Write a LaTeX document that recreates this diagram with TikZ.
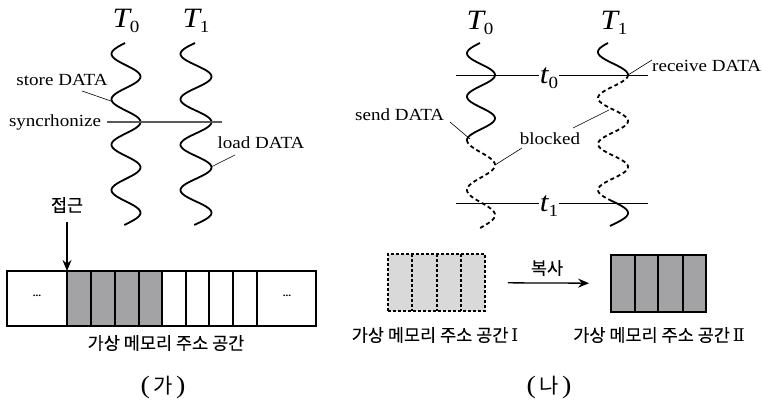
\documentclass[tikz,border=0pt]{standalone}
\usepackage{fontspec}
\setmainfont{Liberation Serif}[FakeStretch=1.12]
\newfontfamily\kr{Noto Sans CJK KR}[FakeBold=0.2]
\newfontfamily\krcap{Noto Sans CJK KR}
\newfontfamily\romfont{DejaVu Serif}
\usetikzlibrary{arrows.meta}
\definecolor{cellgrey}{HTML}{A3A3A5}
\definecolor{lightcell}{HTML}{D9D9D9}
\definecolor{syncgrey}{HTML}{5A5A5A}
\newcommand{\thr}[2]{{\fontsize{28}{28}\selectfont\itshape #1}\raisebox{-5pt}{\fontsize{17}{17}\selectfont #2}}
\begin{document}
\begin{tikzpicture}[x=1pt,y=-1pt,
  wave/.style={line width=1.8pt},
  dwave/.style={line width=1.8pt, dash pattern=on 4pt off 3pt},
  leader/.style={line width=0.6pt},
  lbl/.style={font=\fontsize{17}{17}\selectfont, inner sep=0pt},
  krl/.style={font=\kr\fontsize{17.5}{17.5}\selectfont, inner sep=0pt},
  tlbl/.style={inner sep=0pt},
  captionlbl/.style={font=\krcap\fontsize{21}{21}\selectfont, inner sep=0pt},
  bigarrow/.style={line width=1.3pt, -{Stealth[length=11pt,width=9pt]}},
  thread/.style={line width=0.8pt}]
\useasboundingbox (0,0) rectangle (762,407);

% ---------------- (가) ----------------
\node[tlbl] (lT0) at (126,21) {\thr{T}{0}};
\node[tlbl] (lT1) at (196,21) {\thr{T}{1}};
\draw[wave] plot[domain=43:225,samples=150,smooth] ({126+14.5*cos(7.93*(\x-122))},\x);
\draw[wave] plot[domain=43:225,samples=150,smooth] ({196+15.5*cos(7.93*(\x-122))},\x);

\node[lbl] (sync) at (55,122) {syncrhonize};
\coordinate (syncA) at (107,122);
\coordinate (syncB) at (222,122);
\draw[line width=1.6pt, syncgrey] (syncA) -- (syncB);

\node[lbl] (store) at (62,80) {store DATA};
\coordinate (storeA) at (82,91);
\coordinate (storeB) at (111,101);
\draw[leader] (storeA) -- (storeB);

\node[lbl] (load) at (261,143) {load DATA};
\coordinate (loadA) at (235,155);
\coordinate (loadB) at (211,167);
\draw[leader] (loadA) -- (loadB);

% memory bar
\fill[cellgrey] (67,271) rectangle (162,326);
\foreach \xx in {67,91,115,139,162,186,209,233,257}
  \draw[line width=1.6pt] (\xx,271) -- (\xx,326);
\node[draw, line width=1.6pt, minimum width=309pt, minimum height=55pt, inner sep=0pt] (bar) at (161.5,298.5) {};
\node[font=\bfseries\fontsize{10}{10}\selectfont, inner sep=0pt] (dotsL) at (37,296) {...};
\node[font=\bfseries\fontsize{10}{10}\selectfont, inner sep=0pt] (dotsR) at (287,296) {...};
\node[krl] (acc) at (67,205) {접근};
\coordinate (hit) at (67,271);
\draw[bigarrow, shorten <=9pt] (acc) -- (hit);
\node[krl] (vasL) at (166,343) {가상 메모리 주소 공간};
\node[captionlbl] (ga) at (163,387) {{\rmfamily\fontsize{25}{25}\selectfont(}\,가\,{\rmfamily\fontsize{25}{25}\selectfont)}};

% ---------------- (나) ----------------
\node[tlbl] (rT0) at (480,23) {\thr{T}{0}};
\node[tlbl] (rT1) at (614,23) {\thr{T}{1}};

\coordinate (t0A) at (456,75);
\coordinate (t0B) at (648,75);
\coordinate (t1A) at (456,203);
\coordinate (t1B) at (648,203);
\draw[thread] (t0A) -- (t0B);
\draw[thread] (t1A) -- (t1B);
\node[tlbl, fill=white, inner sep=1pt] (t0) at (549,78) {\thr{t}{0}};
\node[tlbl, fill=white, inner sep=1pt] (t1) at (549,206) {\thr{t}{1}};

% T0 (right)
\draw[wave] plot[domain=43:140,samples=80,smooth] ({481+14*cos(8.306*(\x-75))},\x);
\draw[dwave] plot[domain=140:228,samples=80,smooth] ({481-14*cos(7.2*(\x-140))},\x);
% T1 (right)
\draw[wave] plot[domain=43:75,samples=40,smooth] ({613+15*cos(7.826*(\x-75))},\x);
\draw[dwave] plot[domain=75:200,samples=100,smooth] ({613+15*cos(7.826*(\x-75))},\x);
\draw[wave] plot[domain=200:226,samples=30,smooth] ({613+15*cos(7.826*(\x-75))},\x);

\node[lbl, anchor=west] (recv) at (652,66) {receive DATA};
\coordinate (recvA) at (652,60);
\coordinate (recvB) at (628,75);
\draw[leader] (recvA) -- (recvB);

\node[lbl, anchor=west] (send) at (355,115) {send DATA};
\coordinate (sendA) at (450,122);
\coordinate (sendB) at (470,139);
\draw[leader] (sendA) -- (sendB);

\node[lbl] (blk) at (550,139) {blocked};
\coordinate (blkA) at (522,148);
\coordinate (blkB) at (495,165);
\coordinate (blkC) at (573,128);
\coordinate (blkD) at (609,110);
\draw[leader] (blkA) -- (blkB);
\draw[leader] (blkC) -- (blkD);

% memory boxes
\node[draw, dash pattern=on 3pt off 2pt, line width=1.5pt, fill=lightcell, minimum width=97pt, minimum height=57pt, inner sep=0pt] (m1) at (436.5,282.5) {};
\foreach \xx in {412,437,461}
  \draw[line width=1.5pt, dash pattern=on 3pt off 2pt] (\xx,254) -- (\xx,311);
\fill[cellgrey] (611,255) rectangle (706,312);
\foreach \xx in {635,658,683}
  \draw[line width=1.8pt] (\xx,255) -- (\xx,312);
\node[draw, line width=1.8pt, minimum width=95pt, minimum height=57pt, inner sep=0pt] (m2) at (658.5,283.5) {};
\draw[bigarrow, shorten <=22pt, shorten >=21pt] (m1) -- (m2);
\node[krl] (copy) at (547,268) {복사};
\node[krl] (vas1) at (435,335) {가상 메모리 주소 공간\,{\romfont Ⅰ}};
\node[krl] (vas2) at (659,335) {가상 메모리 주소 공간\,{\romfont Ⅱ}};
\node[captionlbl] (na) at (549,387) {{\rmfamily\fontsize{25}{25}\selectfont(}\,나\,{\rmfamily\fontsize{25}{25}\selectfont)}};
\end{tikzpicture}
\end{document}
